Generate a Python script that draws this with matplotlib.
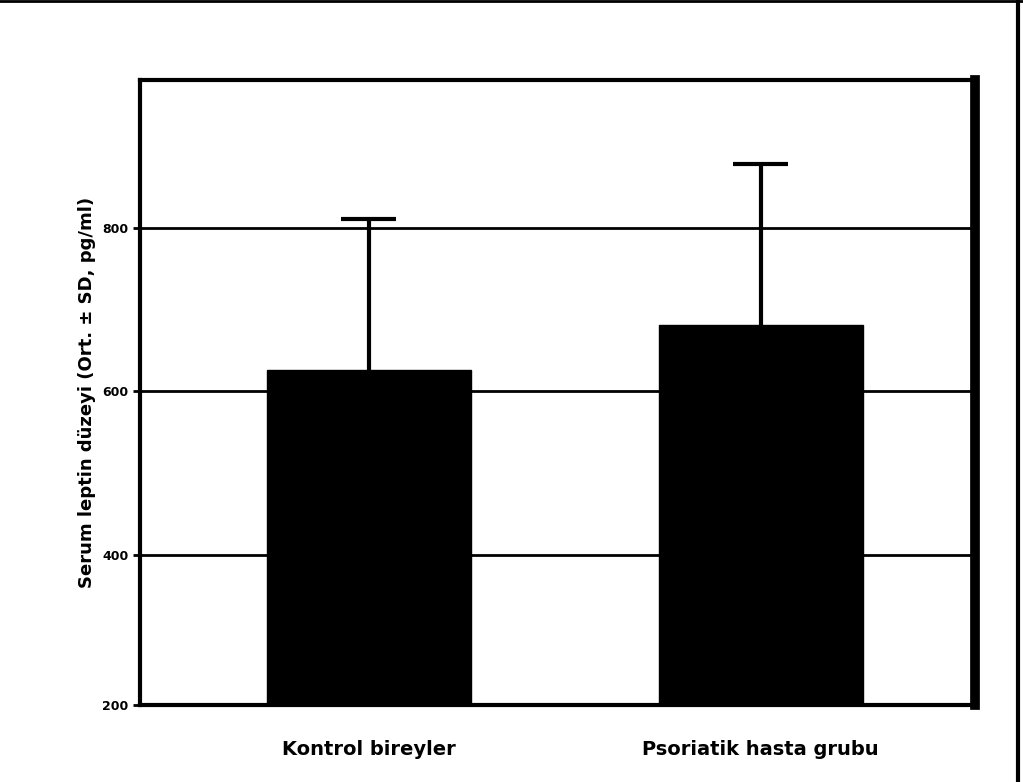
import matplotlib.pyplot as plt

plt.rcParams['font.family'] = 'DejaVu Sans'

groups = ["Kontrol bireyler", "Psoriatik hasta grubu"]
means = [626, 681]
sds = [185, 197]
yticks = [216, 400, 600, 800]
ytick_labels = ["200", "400", "600", "800"]
xpos = [0, 1]

fig = plt.figure(figsize=(10.23, 7.82), dpi=100)
ax = fig.add_axes([140/1023, 1-705/782, 835/1023, 625/782])

ax.bar(xpos, means, width=0.52, color='black', edgecolor='black', lw=1, zorder=2)
tops = [m + s for m, s in zip(means, sds)]
ax.vlines(xpos, means, tops, color='black', lw=3, zorder=3)
ax.hlines(tops, [x - 0.07 for x in xpos], [x + 0.07 for x in xpos], color='black', lw=3, zorder=3)
ax.set_xlim(-0.584, 1.547)
ax.set_ylim(216, 981)
ax.set_yticks(yticks)
ax.set_yticklabels(ytick_labels, fontsize=9, fontweight='bold')
for y in yticks[1:]:
    ax.axhline(y, color='black', lw=2, zorder=1)
ax.set_xticks(xpos)
ax.set_xticklabels(groups, fontsize=14, fontweight='bold')
ax.tick_params(axis='x', length=0, pad=25)
ax.tick_params(axis='y', width=2, length=5)
ax.set_ylabel("Serum leptin düzeyi (Ort. ± SD, pg/ml)", fontsize=13, fontweight='bold')
for s in ax.spines.values():
    s.set_linewidth(3)
ax.spines['right'].set_linewidth(7)

fig.add_artist(plt.Line2D([0, 1], [0.999, 0.999], color='black', lw=2))
fig.add_artist(plt.Line2D([1018/1023, 1018/1023], [0, 1], color='black', lw=3))

fig.savefig('out.png', dpi=100)
